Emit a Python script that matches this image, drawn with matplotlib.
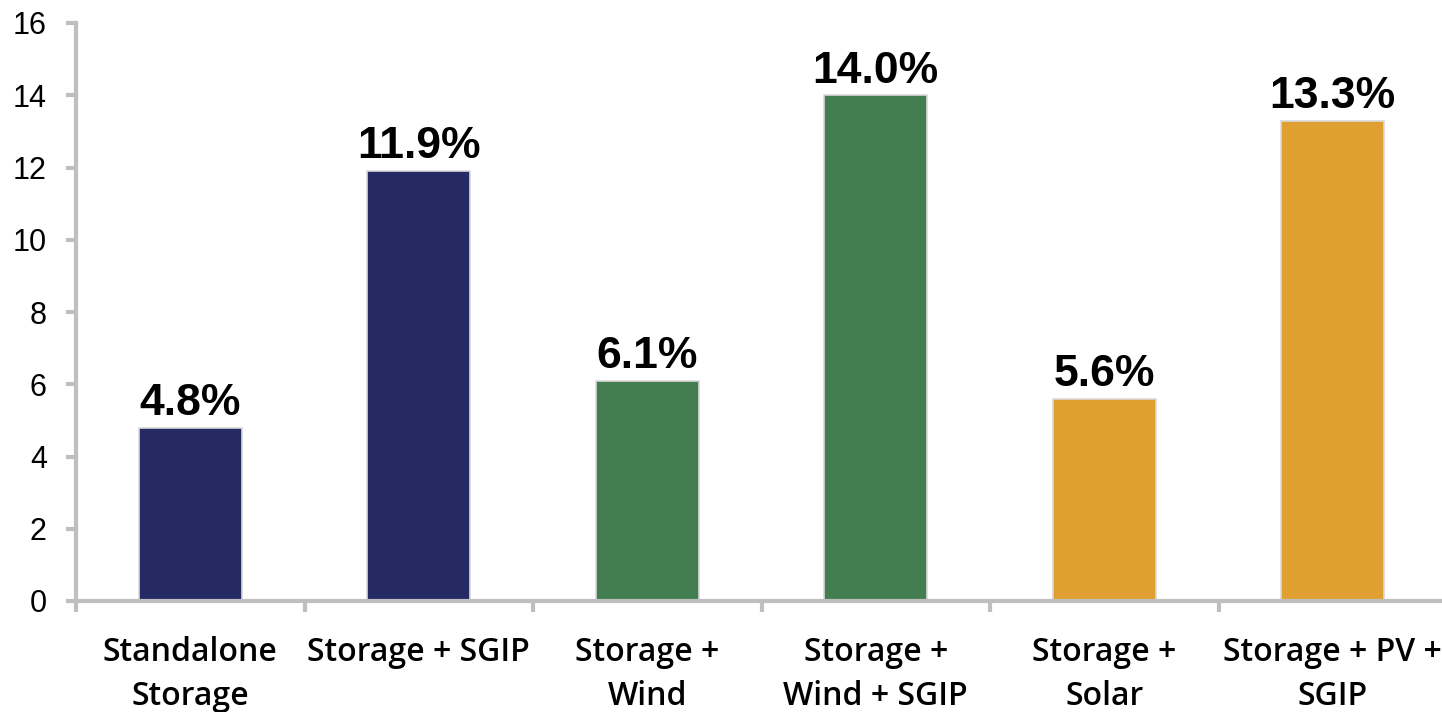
import matplotlib
matplotlib.use("Agg")
import matplotlib.pyplot as plt
import numpy as np

categories = ["Standalone\nStorage", "Storage + SGIP", "Storage +\nWind",
              "Storage +\nWind + SGIP", "Storage +\nSolar", "Storage + PV +\nSGIP"]
values = [4.8, 11.9, 6.1, 14.0, 5.6, 13.3]
labels = ["4.8%", "11.9%", "6.1%", "14.0%", "5.6%", "13.3%"]
colors = ["#262A64", "#262A64", "#437E50", "#437E50", "#E0A031", "#E0A031"]
yticks = [0, 2, 4, 6, 8, 10, 12, 14, 16]

W, H = 1442, 712
fig = plt.figure(figsize=(W / 100, H / 100), dpi=100)
left, right, bottom, top = 76, 1447, 601, 23
ax = fig.add_axes([left / W, 1 - bottom / H, (right - left) / W, (bottom - top) / H])

x = np.arange(len(categories))
ax.bar(x, values, width=0.45, color=colors, edgecolor="#D9D9D9", linewidth=1.2, zorder=2)

for xi, v, lab in zip(x, values, labels):
    ax.text(xi, v + 0.1, lab, ha="center", va="bottom", fontsize=32,
            fontweight="bold", family="Liberation Sans", color="black")

ax.set_xlim(-0.5, len(categories) - 0.5)
ax.set_ylim(0, 16)
ax.set_yticks(yticks)
ax.set_yticklabels([str(t) for t in yticks], family="Liberation Sans", fontsize=22)

# category boundaries carry the x tick marks; labels sit at bar centres
ax.set_xticks(np.arange(len(categories) + 1) - 0.5)
ax.set_xticklabels([])
ax.set_xticks(x, minor=True)
ax.set_xticklabels(categories, minor=True, family="Open Sans", fontweight="semibold",
                   fontsize=23, linespacing=1.45, va="top")
ax.tick_params(axis="x", which="minor", length=0, pad=25)
ax.tick_params(axis="x", which="major", length=8, width=3, color="#BFBFBF", direction="out")
ax.tick_params(axis="y", length=7, width=3, color="#BFBFBF", direction="out", pad=14)

for side in ["top", "right"]:
    ax.spines[side].set_visible(False)
for side in ["left", "bottom"]:
    ax.spines[side].set_color("#BFBFBF")
    ax.spines[side].set_linewidth(3)

fig.savefig("out.png", dpi=100)
